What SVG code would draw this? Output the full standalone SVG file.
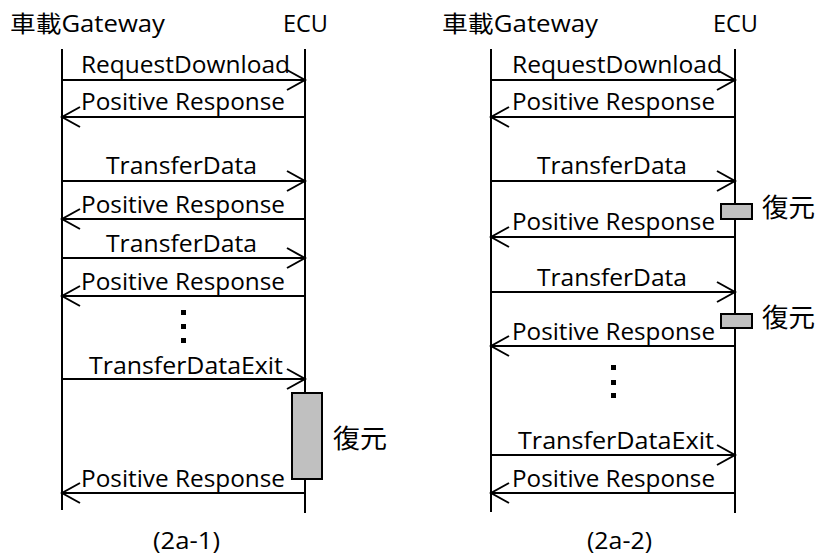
<svg xmlns="http://www.w3.org/2000/svg" width="819" height="556" viewBox="0 0 819 556">
<style>
text{font-family:"Open Sans","Noto Sans CJK JP",sans-serif;font-size:23px;fill:#000}
.cjk{font-family:"Noto Sans CJK JP",sans-serif;font-size:26px}
.life{stroke:#000;stroke-width:2;fill:none}
.msg{stroke:#000;stroke-width:2;fill:none;marker-end:url(#open)}
.act{fill:#c0c0c0;stroke:#000;stroke-width:2}
</style>
<defs>
<marker id="open" markerUnits="userSpaceOnUse" viewBox="-20 -12 22 24" refX="0" refY="0" markerWidth="22" markerHeight="24" orient="auto">
<path d="M-18,-10 L0,0 L-18,10" fill="none" stroke="#000" stroke-width="2"/>
</marker>
</defs>

<g id="diagram-2a-1">
<g id="gw1"><text x="10" y="32" textLength="155" lengthAdjust="spacingAndGlyphs">車載Gateway</text><line class="life" x1="62" y1="49" x2="62" y2="510"/></g>
<g id="ecu1"><text x="283" y="32" textLength="45" lengthAdjust="spacingAndGlyphs">ECU</text><line class="life" x1="305" y1="49" x2="305" y2="513"/></g>
<g id="restore1"><rect class="act" x="292" y="393" width="30" height="86"/><text class="cjk" x="333" y="448" textLength="54" lengthAdjust="spacingAndGlyphs">復元</text></g>
<g id="connectors1">
<line class="msg" x1="62" y1="80" x2="305" y2="80"/>
<line class="msg" x1="305" y1="117" x2="62" y2="117"/>
<line class="msg" x1="62" y1="181" x2="305" y2="181"/>
<line class="msg" x1="305" y1="219" x2="62" y2="219"/>
<line class="msg" x1="62" y1="258" x2="305" y2="258"/>
<line class="msg" x1="305" y1="296" x2="62" y2="296"/>
<line class="msg" x1="62" y1="379" x2="305" y2="379"/>
<line class="msg" x1="305" y1="493" x2="62" y2="493"/>
</g>
<g id="labels1">
<text x="81" y="73" textLength="209" lengthAdjust="spacingAndGlyphs">RequestDownload</text>
<text x="81" y="110" textLength="204" lengthAdjust="spacingAndGlyphs">Positive Response</text>
<text x="106" y="174" textLength="151" lengthAdjust="spacingAndGlyphs">TransferData</text>
<text x="81" y="213" textLength="204" lengthAdjust="spacingAndGlyphs">Positive Response</text>
<text x="106" y="252" textLength="151" lengthAdjust="spacingAndGlyphs">TransferData</text>
<text x="81" y="290" textLength="204" lengthAdjust="spacingAndGlyphs">Positive Response</text>
<text x="89" y="374" textLength="194" lengthAdjust="spacingAndGlyphs">TransferDataExit</text>
<text x="81" y="487" textLength="204" lengthAdjust="spacingAndGlyphs">Positive Response</text>
<rect x="181" y="310" width="5" height="5"/><rect x="181" y="324" width="5" height="5"/><rect x="181" y="338" width="5" height="5"/>
<text x="153" y="549" textLength="67" lengthAdjust="spacingAndGlyphs">(2a-1)</text>
</g>
</g>

<g id="diagram-2a-2">
<g id="gw2"><text x="442" y="32" textLength="156" lengthAdjust="spacingAndGlyphs">車載Gateway</text><line class="life" x1="491" y1="49" x2="491" y2="512"/></g>
<g id="ecu2"><text x="713" y="32" textLength="45" lengthAdjust="spacingAndGlyphs">ECU</text><line class="life" x1="735" y1="49" x2="735" y2="513"/></g>
<g id="restore2a"><rect class="act" x="721" y="204" width="31" height="15"/><text class="cjk" x="762" y="217" textLength="53" lengthAdjust="spacingAndGlyphs">復元</text></g>
<g id="restore2b"><rect class="act" x="721" y="314" width="31" height="14"/><text class="cjk" x="762" y="327" textLength="53" lengthAdjust="spacingAndGlyphs">復元</text></g>
<g id="connectors2">
<line class="msg" x1="491" y1="80" x2="735" y2="80"/>
<line class="msg" x1="735" y1="117" x2="491" y2="117"/>
<line class="msg" x1="491" y1="181" x2="735" y2="181"/>
<line class="msg" x1="735" y1="237" x2="491" y2="237"/>
<line class="msg" x1="491" y1="292" x2="735" y2="292"/>
<line class="msg" x1="735" y1="346" x2="491" y2="346"/>
<line class="msg" x1="491" y1="455" x2="735" y2="455"/>
<line class="msg" x1="735" y1="493" x2="491" y2="493"/>
</g>
<g id="labels2">
<text x="512" y="73" textLength="210" lengthAdjust="spacingAndGlyphs">RequestDownload</text>
<text x="512" y="110" textLength="203" lengthAdjust="spacingAndGlyphs">Positive Response</text>
<text x="537" y="174" textLength="150" lengthAdjust="spacingAndGlyphs">TransferData</text>
<text x="512" y="230" textLength="203" lengthAdjust="spacingAndGlyphs">Positive Response</text>
<text x="537" y="286" textLength="150" lengthAdjust="spacingAndGlyphs">TransferData</text>
<text x="512" y="340" textLength="203" lengthAdjust="spacingAndGlyphs">Positive Response</text>
<text x="518" y="449" textLength="196" lengthAdjust="spacingAndGlyphs">TransferDataExit</text>
<text x="512" y="487" textLength="203" lengthAdjust="spacingAndGlyphs">Positive Response</text>
<rect x="611" y="365" width="5" height="5"/><rect x="611" y="380" width="5" height="5"/><rect x="611" y="393" width="5" height="5"/>
<text x="587" y="549" textLength="65" lengthAdjust="spacingAndGlyphs">(2a-2)</text>
</g>
</g>
</svg>
